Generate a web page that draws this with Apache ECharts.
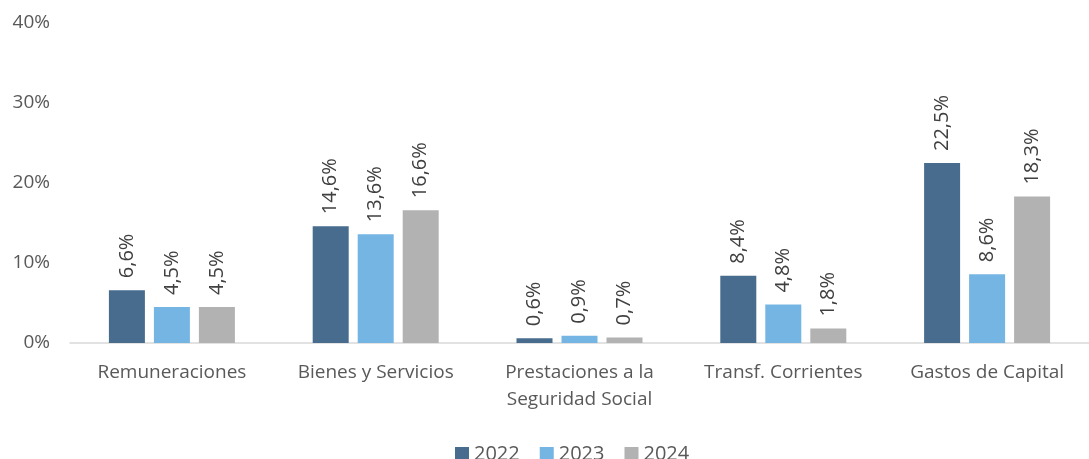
<!DOCTYPE html>
<html>
<head>
    <meta charset="utf-8">
    <title>chart</title>
    <script src="https://cdn.jsdelivr.net/npm/echarts@6/dist/echarts.min.js"></script>
    <style>
        body { margin: 0; background: #fff; }
        #app { width: 1089px; height: 459px; }
    </style>
</head>
<body>
    <div id="app"></div>
<script type="text/javascript">
    var categories = ['Remuneraciones', 'Bienes y Servicios', 'Prestaciones a la\nSeguridad Social', 'Transf. Corrientes', 'Gastos de Capital'];
    var years = ['2022', '2023', '2024'];
    var v2022 = [6.6, 14.6, 0.6, 8.4, 22.5];
    var v2023 = [4.5, 13.6, 0.9, 4.8, 8.6];
    var v2024 = [4.5, 16.6, 0.7, 1.8, 18.3];
    var colors = ['#476c8e', '#75b5e3', '#b2b2b2'];

    var font = '"Open Sans", "Noto Sans", sans-serif';

    function pct(v) {
        return String(v.toFixed(1)).replace('.', ',') + '%';
    }

    function makeSeries(name, data) {
        return {
            name: name,
            type: 'bar',
            data: data,
            barWidth: 36,
            barGap: '25%',
            label: {
                show: true,
                position: 'top',
                rotate: 90,
                align: 'left',
                verticalAlign: 'middle',
                distance: 12,
                fontFamily: font,
                fontSize: 20,
                color: '#404040',
                formatter: function (p) { return pct(p.value); }
            }
        };
    }

    var option = {
        color: colors,
        animation: false,
        grid: { left: 70, width: 1030, top: 23, bottom: 116 },
        legend: {
            data: years,
            top: 439,
            left: 450,
            itemWidth: 14,
            itemHeight: 14,
            itemGap: 20,
            icon: 'rect',
            textStyle: { fontFamily: font, fontSize: 20, color: '#595959' }
        },
        xAxis: {
            type: 'category',
            data: categories,
            axisLine: { lineStyle: { color: '#d9d9d9', width: 1.5 } },
            axisTick: { show: false },
            axisLabel: {
                fontFamily: font,
                fontSize: 19,
                color: '#595959',
                margin: 16,
                lineHeight: 27,
                interval: 0
            }
        },
        yAxis: {
            type: 'value',
            min: 0,
            max: 40,
            interval: 10,
            axisLine: { show: false },
            axisTick: { show: false },
            splitLine: { show: false },
            axisLabel: {
                fontFamily: font,
                fontSize: 19,
                color: '#595959',
                margin: 20,
                formatter: '{value}%'
            }
        },
        series: [
            makeSeries(years[0], v2022),
            makeSeries(years[1], v2023),
            makeSeries(years[2], v2024)
        ]
    };

    var myChart = echarts.init(document.getElementById('app'));
    myChart.setOption(option);
</script>
</body>
</html>
